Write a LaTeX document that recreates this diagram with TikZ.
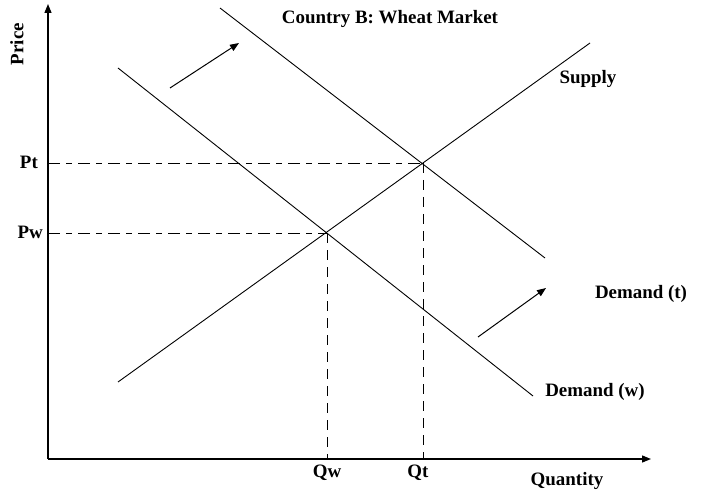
\documentclass[tikz,border=0pt]{standalone}
\usepackage{fontspec}
\setmainfont{Liberation Serif}
\usepackage{tikz}
\usetikzlibrary{arrows.meta, positioning}

\begin{document}
\begin{tikzpicture}[
      x=1bp, y=-1bp,
      every node/.style={font=\fontsize{19}{22}\selectfont\bfseries, inner sep=2bp},
      axis/.style={line width=1.3bp, -{Triangle[length=9bp, width=7bp]}},
      curve/.style={line width=0.9bp},
      shiftarrow/.style={line width=1bp, -{Triangle[length=9bp, width=7bp]}},
      guide/.style={line width=0.9bp, dash pattern=on 12bp off 6bp on 6bp off 6bp},
      vguide/.style={line width=0.9bp, dash pattern=on 10bp off 7bp}
    ]
    \useasboundingbox (0,0) rectangle (704,494);

    % axes
    \coordinate (origin) at (48,459);
    \coordinate (ytop) at (48,4);
    \coordinate (xend) at (651,459);
    \draw[axis] (origin) -- (ytop);
    \draw[axis] (origin) -- (xend);
    \node[rotate=90] (price) at (17,44) {Price};
    \node (quantity) at (567,481) {Quantity};
    \node (title) at (390,19) {Country B: Wheat Market};

    % supply and demand curves
    \coordinate (s0) at (118,382);
    \coordinate (s1) at (590,43);
    \coordinate (dw0) at (118,68);
    \coordinate (dw1) at (533,396);
    \coordinate (dt0) at (220,8);
    \coordinate (dt1) at (545,258);
    \draw[curve] (s0) -- (s1);
    \draw[curve] (dw0) -- (dw1);
    \draw[curve] (dt0) -- (dt1);
    \node (supply) at (588,79) {Supply};
    \node (demandt) at (641,294) {Demand (t)};
    \node (demandw) at (595,392) {Demand (w)};

    % equilibria
    \coordinate (et) at (423,163);
    \coordinate (ew) at (327,233);
    \coordinate (pt) at (48,163);
    \coordinate (pw) at (48,233);
    \coordinate (qt) at (423,459);
    \coordinate (qw) at (327,459);
    \node[left=8bp of pt, yshift=1bp] (ptlabel) {Pt};
    \node[left=3bp of pw, yshift=1bp] (pwlabel) {Pw};
    \node[below=4bp of qw] (qwlabel) {Qw};
    \node[below=4bp of qt, xshift=-5bp] (qtlabel) {Qt};
    \draw[guide] (pt) -- (et);
    \draw[guide] (pw) -- (ew);
    \draw[vguide] (et) -- (qt);
    \draw[vguide] (ew) -- (qw);

    % shift arrows
    \coordinate (a0) at (170,88);
    \coordinate (a1) at (239,43);
    \coordinate (b0) at (478,337);
    \coordinate (b1) at (546,288);
    \draw[shiftarrow] (a0) -- (a1);
    \draw[shiftarrow] (b0) -- (b1);
  \end{tikzpicture}
\end{document}
